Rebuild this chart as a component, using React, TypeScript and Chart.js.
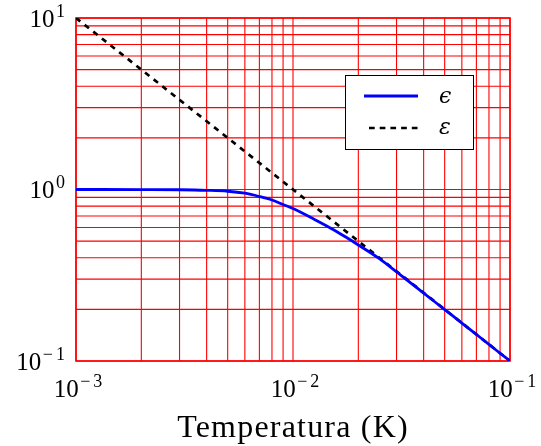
import React, { useEffect, useRef } from 'react';
import { Chart, registerables } from 'chart.js';

Chart.register(...registerables);

// Temperature values (K) and curves
const blueX = [0.001, 0.002, 0.003, 0.004, 0.005, 0.006, 0.007, 0.008, 0.009, 0.01, 0.0125, 0.015, 0.0175, 0.02, 0.025, 0.03, 0.04, 0.05, 0.06, 0.07, 0.08, 0.09, 0.1];
const blueY = [1.0, 0.999, 0.9965, 0.989, 0.977, 0.951, 0.91, 0.868, 0.818, 0.774, 0.671, 0.593, 0.528, 0.475, 0.395, 0.331, 0.249, 0.1995, 0.1665, 0.1428, 0.125, 0.111, 0.1];
const dashX = [0.001, 0.01, 0.1];
const dashY = [10, 1, 0.1];

const xGridTicks = [0.001, 0.002, 0.003, 0.004, 0.005, 0.006, 0.007, 0.008, 0.009, 0.01, 0.02, 0.03, 0.04, 0.05, 0.06, 0.07, 0.08, 0.09, 0.1];
const yGridTicks = [0.1, 0.2, 0.3, 0.4, 0.5, 0.6, 0.7, 0.8, 0.9, 1, 2, 3, 4, 5, 6, 7, 8, 9, 10];
const xMajor = [0.001, 0.01, 0.1];
const xMajorExp = ['\u22123', '\u22122', '\u22121'];
const yMajor = [0.1, 1, 10];
const yMajorExp = ['\u22121', '0', '1'];
const xTitle = 'Temperatura (K)';
const legendLabels = ['\u03F5', '\u03B5'];

const SERIF = '"Liberation Serif", "DejaVu Serif", serif';
const GRID = 'rgb(255, 0, 0)';

function drawPow(ctx: CanvasRenderingContext2D, x: number, baseline: number, exp: string, align: 'center' | 'right') {
  ctx.font = `25px ${SERIF}`;
  const wb = ctx.measureText('10').width;
  ctx.font = `18px ${SERIF}`;
  const chars = Array.from(exp);
  const widths = chars.map((c) => ctx.measureText(c).width);
  const gaps = chars.map((c) => (c === '\u2212' ? 3 : 0));
  const we = widths.reduce((a, b) => a + b, 0) + gaps.reduce((a, b) => a + b, 0);
  const total = wb + 1.5 + we;
  const start = align === 'center' ? x - total / 2 : x - total;
  ctx.textAlign = 'left';
  ctx.textBaseline = 'alphabetic';
  ctx.font = `25px ${SERIF}`;
  ctx.fillText('10', start, baseline);
  ctx.font = `18px ${SERIF}`;
  let cx = start + wb + 1.5;
  chars.forEach((c, i) => {
    ctx.fillText(c, cx, baseline - 10);
    cx += widths[i] + gaps[i];
  });
}

const gridPlugin = {
  id: 'redgrid',
  beforeDatasetsDraw(chart: any) {
    const ctx: CanvasRenderingContext2D = chart.ctx;
    const { left, right, top, bottom } = chart.chartArea;
    const xs = chart.scales.x;
    const ys = chart.scales.y;
    ctx.save();
    ctx.strokeStyle = GRID;
    ctx.lineWidth = 1.1;
    ctx.beginPath();
    xGridTicks.forEach((v) => {
      const px = xs.getPixelForValue(v);
      ctx.moveTo(px, top);
      ctx.lineTo(px, bottom);
    });
    yGridTicks.forEach((v) => {
      const py = ys.getPixelForValue(v);
      ctx.moveTo(left, py);
      ctx.lineTo(right, py);
    });
    ctx.stroke();
    ctx.lineWidth = 1.6;
    ctx.strokeRect(left, top, right - left, bottom - top);
    ctx.restore();
  },
};

const decorPlugin = {
  id: 'decor',
  afterDraw(chart: any) {
    const ctx: CanvasRenderingContext2D = chart.ctx;
    const xs = chart.scales.x;
    const ys = chart.scales.y;
    ctx.save();
    ctx.fillStyle = '#000';
    xMajor.forEach((v, i) => {
      drawPow(ctx, xs.getPixelForValue(v) + 2, 397, xMajorExp[i], 'center');
    });
    yMajor.forEach((v, i) => {
      drawPow(ctx, 65, ys.getPixelForValue(v) + 8.5, yMajorExp[i], 'right');
    });
    // axis title
    ctx.font = `32px ${SERIF}`;
    (ctx as any).letterSpacing = '1.2px';
    ctx.textAlign = 'center';
    ctx.textBaseline = 'alphabetic';
    const cx = (chart.chartArea.left + chart.chartArea.right) / 2;
    ctx.fillText(xTitle, cx, 437);
    (ctx as any).letterSpacing = '0px';

    // legend
    const lx = 345, ly = 75, lw = 128, lh = 74;
    ctx.fillStyle = '#fff';
    ctx.fillRect(lx, ly, lw, lh);
    ctx.strokeStyle = '#000';
    ctx.lineWidth = 1;
    ctx.strokeRect(lx + 0.5, ly + 0.5, lw, lh);

    ctx.strokeStyle = '#0000ff';
    ctx.lineWidth = 2.8;
    ctx.beginPath();
    ctx.moveTo(364, 96);
    ctx.lineTo(418, 96);
    ctx.stroke();

    ctx.strokeStyle = '#000';
    ctx.lineWidth = 2.7;
    ctx.setLineDash([5.7, 5]);
    ctx.beginPath();
    ctx.moveTo(369, 128);
    ctx.lineTo(418, 128);
    ctx.stroke();
    ctx.setLineDash([]);

    ctx.fillStyle = '#000';
    ctx.font = 'italic 22px "DejaVu Serif", serif';
    ctx.textAlign = 'left';
    ctx.fillText(legendLabels[0], 439, 103);
    ctx.fillText(legendLabels[1], 439, 134);
    ctx.restore();
  },
};

export default function App() {
  const ref = useRef<HTMLCanvasElement | null>(null);
  useEffect(() => {
    if (!ref.current) return;
    const chart = new Chart(ref.current, {
      type: 'line',
      data: {
        datasets: [
          {
            label: legendLabels[0],
            data: blueX.map((x, i) => ({ x, y: blueY[i] })),
            borderColor: '#0000ff',
            borderWidth: 2.8,
            pointRadius: 0,
            fill: false,
            cubicInterpolationMode: 'monotone',
            order: 0,
          },
          {
            label: legendLabels[1],
            data: dashX.map((x, i) => ({ x, y: dashY[i] })),
            borderColor: '#000000',
            borderWidth: 2.7,
            borderDash: [5.5, 5.5],
            pointRadius: 0,
            fill: false,
            order: 1,
          },
        ],
      },
      options: {
        responsive: false,
        animation: false,
        layout: { padding: { left: 76, top: 18, right: 31, bottom: 85 } },
        plugins: { legend: { display: false }, tooltip: { enabled: false } },
        scales: {
          x: {
            type: 'logarithmic',
            display: false,
            min: 0.001,
            max: 0.1,
            ticks: { display: false, callback: () => '' },
            grid: { display: false, drawTicks: false },
          },
          y: {
            type: 'logarithmic',
            display: false,
            min: 0.1,
            max: 10,
            ticks: { display: false, callback: () => '' },
            grid: { display: false, drawTicks: false },
          },
        },
      },
      plugins: [gridPlugin, decorPlugin],
    } as any);
    return () => chart.destroy();
  }, []);
  return (
    <canvas
      ref={ref}
      width={541}
      height={446}
      style={{ position: 'absolute', left: 0, top: 0, display: 'block' }}
    />
  );
}
